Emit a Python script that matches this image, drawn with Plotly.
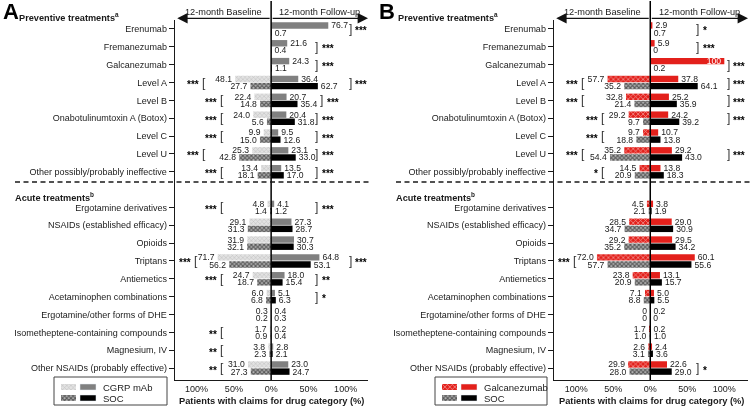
import plotly.graph_objects as go

W, H = 753, 409
FONT = "Liberation Sans, Arial, Helvetica, sans-serif"
INK = "#1a1a1a"
GRAY = "#808080"
RED = "#e3201b"

# ---------------- data ----------------
preventive = ["Erenumab", "Fremanezumab", "Galcanezumab", "Level A", "Level B",
              "Onabotulinumtoxin A (Botox)", "Level C", "Level U",
              "Other possibly/probably ineffective"]
acute = ["Ergotamine derivatives", "NSAIDs (established efficacy)", "Opioids", "Triptans",
         "Antiemetics", "Acetaminophen combinations", "Ergotamine/other forms of DHE",
         "Isometheptene-containing compounds", "Magnesium, IV", "Other NSAIDs (probably effective)"]
categories = preventive + acute

x_ticks = [-100, -50, 0, 50, 100]
x_tick_labels = ["100%", "50%", "0%", "50%", "100%"]

# Panel A: CGRP mAb vs SOC (baseline / follow-up)
a_cgrp_base = [None, None, None, 48.1, 22.4, 24.0, 9.9, 25.3, 13.4,
               4.8, 29.1, 31.9, 71.7, 24.7, 6.0, 0.3, 1.7, 3.8, 31.0]
a_soc_base = [None, None, None, 27.7, 14.8, 5.6, 15.0, 42.8, 18.1,
              1.4, 31.3, 32.1, 56.2, 18.7, 6.8, 0.2, 0.9, 2.3, 27.3]
a_cgrp_fu = [76.7, 21.6, 24.3, 36.4, 20.7, 20.4, 9.5, 23.1, 13.5,
             4.1, 27.3, 30.7, 64.8, 18.0, 5.1, 0.4, 0.2, 2.8, 23.0]
a_soc_fu = [0.7, 0.4, 1.1, 62.7, 35.4, 31.8, 12.6, 33.0, 17.0,
            1.2, 28.7, 30.3, 53.1, 15.4, 6.3, 0.3, 0.4, 2.1, 24.7]

# Panel B: Galcanezumab vs SOC
b_galc_base = [None, None, None, 57.7, 32.8, 29.2, 9.7, 35.2, 14.5,
               4.5, 28.5, 29.2, 72.0, 23.8, 7.1, 0, 1.7, 2.6, 29.9]
b_soc_base = [None, None, None, 35.2, 21.4, 9.7, 18.8, 54.4, 20.9,
              2.1, 34.7, 35.2, 57.7, 20.9, 8.8, 0, 1.0, 3.1, 28.0]
b_galc_fu = [2.9, 5.9, 100, 37.8, 25.2, 24.2, 10.7, 29.2, 13.8,
             3.8, 29.0, 29.5, 60.1, 13.1, 5.0, 0.2, 0.2, 2.4, 22.6]
b_soc_fu = [0.7, 0, 0.2, 64.1, 35.9, 39.2, 13.8, 43.0, 18.3,
            1.9, 30.9, 34.2, 55.6, 15.7, 5.5, 0, 1.0, 3.6, 29.0]

# significance: (category, stars, bracket position in % of axis)
a_sig_base = [("Level A", "***", -90), ("Level B", "***", -66), ("Onabotulinumtoxin A (Botox)", "***", -66),
              ("Level C", "***", -66), ("Level U", "***", -90),
              ("Other possibly/probably ineffective", "***", -66),
              ("Ergotamine derivatives", "***", -66), ("Triptans", "***", -101),
              ("Antiemetics", "***", -66), ("Isometheptene-containing compounds", "**", -66),
              ("Magnesium, IV", "**", -66), ("Other NSAIDs (probably effective)", "**", -66)]
a_sig_fu = [("Erenumab", "***", 106), ("Fremanezumab", "***", 61), ("Galcanezumab", "***", 61),
            ("Level A", "***", 106), ("Level B", "***", 68), ("Onabotulinumtoxin A (Botox)", "***", 61),
            ("Level C", "***", 61), ("Level U", "***", 61),
            ("Other possibly/probably ineffective", "***", 61),
            ("Ergotamine derivatives", "***", 61), ("Triptans", "***", 106),
            ("Antiemetics", "**", 61), ("Acetaminophen combinations", "*", 61)]
b_sig_base = [("Level A", "***", -91), ("Level B", "***", -91), ("Onabotulinumtoxin A (Botox)", "***", -64),
              ("Level C", "***", -64), ("Level U", "***", -91),
              ("Other possibly/probably ineffective", "*", -64), ("Triptans", "***", -101)]
b_sig_fu = [("Erenumab", "*", 64), ("Fremanezumab", "***", 64), ("Galcanezumab", "***", 105),
            ("Level A", "***", 105), ("Level B", "***", 105), ("Onabotulinumtoxin A (Botox)", "***", 105),
            ("Level U", "***", 105), ("Other NSAIDs (probably effective)", "*", 64)]

# ---------------- helpers ----------------
def px(x):
    return x / W


def py(y):
    return 1 - y / H


def row_pos(cat):
    i = categories.index(cat)
    return i if i < len(preventive) else i + 1


positions = [row_pos(c) for c in categories]


def fmt(v):
    if v is None:
        return ""
    if v == 0:
        return "0"
    if v == 100:
        return "100"
    return f"{v:.1f}"


def neg(v):
    # baseline bars point left; a zero value keeps a hair-thin leftward bar so its label sits on the left
    if v is None:
        return None
    return -v if v != 0 else -0.1


OFF = 0.2
BW = 0.36
NUM = dict(family=FONT, size=8.6, color=INK)
LBL = 9

fig = go.Figure()

panels = [
    dict(xa="x", ya="y", dom=(175, 368), rng=[-129, 130], tips=(-126, 130),
         top_base=a_cgrp_base, bot_base=a_soc_base, top_fu=a_cgrp_fu, bot_fu=a_soc_fu,
         top_base_style=dict(color="#dcdcdc", pattern=dict(shape="x", fgcolor="#a0a0a0", bgcolor="#e2e2e2",
                                                           size=3, solidity=0.35)),
         top_fu_color=GRAY, sig_base=a_sig_base, sig_fu=a_sig_fu,
         letter="A", left=0, legend_name="CGRP mAb", box=(54, 167), pre_x=19, acu_x=15, dash_x=15),
    dict(xa="x2", ya="y2", dom=(554, 748), rng=[-130, 132], tips=(-127, 132),
         top_base=b_galc_base, bot_base=b_soc_base, top_fu=b_galc_fu, bot_fu=b_soc_fu,
         top_base_style=dict(color=RED, pattern=dict(shape="x", fgcolor="white", bgcolor=RED,
                                                     size=3.5, solidity=0.4)),
         top_fu_color=RED, sig_base=b_sig_base, sig_fu=b_sig_fu,
         letter="B", left=376, legend_name="Galcanezumab", box=(435, 547), pre_x=398, acu_x=396, dash_x=396),
]

soc_base_style = dict(color="#777777", pattern=dict(shape="x", fgcolor="#000000", bgcolor="#b4b4b4",
                                                    size=3, solidity=0.6))

annotations = []
shapes = []
layout_axes = {}

for k, p in enumerate(panels):
    xa, ya = p["xa"], p["ya"]
    top_y = [q - OFF for q in positions]
    bot_y = [q + OFF for q in positions]

    def bar(xs, ys, texts, marker, tpos="outside"):
        return go.Bar(x=xs, y=ys, orientation="h", width=BW, text=texts, textposition=tpos,
                      textfont=NUM, insidetextfont=dict(family=FONT, size=8.6, color="white"),
                      outsidetextfont=NUM, constraintext="none", cliponaxis=False,
                      textangle=0, marker=marker, xaxis=xa, yaxis=ya, hoverinfo="skip",
                      showlegend=False)

    m_top_base = dict(color=p["top_base_style"]["color"], pattern=p["top_base_style"]["pattern"],
                      line=dict(width=0))
    m_bot_base = dict(color=soc_base_style["color"], pattern=soc_base_style["pattern"], line=dict(width=0))
    fig.add_trace(bar([neg(v) for v in p["top_base"]], top_y, [fmt(v) for v in p["top_base"]], m_top_base))
    fig.add_trace(bar([neg(v) for v in p["bot_base"]], bot_y, [fmt(v) for v in p["bot_base"]], m_bot_base))
    tpos_top = ["inside" if v == 100 else "outside" for v in p["top_fu"]]
    fig.add_trace(bar(p["top_fu"], top_y, [fmt(v) for v in p["top_fu"]],
                      dict(color=p["top_fu_color"], line=dict(width=0)), tpos_top))
    fig.add_trace(bar(p["bot_fu"], bot_y, [fmt(v) for v in p["bot_fu"]],
                      dict(color="black", line=dict(width=0))))

    xname = "xaxis" + xa[1:]
    yname = "yaxis" + ya[1:]
    layout_axes[xname] = dict(domain=[px(p["dom"][0]), px(p["dom"][1])], range=p["rng"], anchor=ya,
                              showline=True, linecolor=INK, linewidth=1.3, ticks="",
                              tickvals=x_ticks, ticktext=x_tick_labels,
                              tickfont=dict(family=FONT, size=9, color=INK),
                              showgrid=False, zeroline=False, fixedrange=True, automargin=False)
    layout_axes[yname] = dict(domain=[py(380), py(20)], range=[19.67, -0.504], anchor=xa,
                              showline=True, linecolor=INK, linewidth=1.3, ticks="outside",
                              ticklen=5, tickwidth=1, tickcolor=INK,
                              tickvals=positions, ticktext=categories,
                              tickfont=dict(family=FONT, size=LBL, color=INK),
                              showgrid=False, zeroline=False, fixedrange=True, automargin=False)

    # zero line
    shapes.append(dict(type="line", xref=xa, yref="paper", x0=0, x1=0, y0=py(380), y1=py(1),
                       line=dict(color="black", width=1.5)))
    # dashed separator
    shapes.append(dict(type="line", xref="paper", yref="paper",
                       x0=px(p["dash_x"]), x1=px(p["dom"][1] + 2),
                       y0=py(182), y1=py(182), line=dict(color=INK, width=1.5, dash="5px,3.5px")))
    # arrows
    for tip in p["tips"]:
        annotations.append(dict(xref=xa, yref="paper", x=tip, y=py(18.3), ax=0, ay=0,
                                axref=xa, ayref="pixel", text="", showarrow=True, arrowhead=2,
                                arrowsize=1.6, arrowwidth=1.3, arrowcolor="#111", standoff=0,
                                startstandoff=0))
    # header texts
    for xd, t in ((0.25, "12-month Baseline"), (0.75, "12-month Follow-up")):
        annotations.append(dict(xref=xa + " domain", yref="paper", x=xd, y=py(12.5), text=t,
                                showarrow=False, xanchor="center", yanchor="middle",
                                font=dict(family=FONT, size=9.2, color=INK)))
    # x-axis title
    annotations.append(dict(xref=xa + " domain", yref="paper", x=0.5, y=py(400.5),
                            text="<b>Patients with claims for drug category (%)</b>", showarrow=False,
                            xanchor="center", yanchor="middle",
                            font=dict(family=FONT, size=9.3, color=INK)))
    # panel letter and section headers
    annotations.append(dict(xref="paper", yref="paper", x=px(p["left"] + 0.5), y=py(11.5),
                            text=f"<b>{p['letter']}</b>",
                            showarrow=False, xanchor="left", yanchor="middle",
                            font=dict(family=FONT, size=22, color="black")))
    annotations.append(dict(xref="paper", yref="paper", x=px(p["pre_x"] - 2), y=py(17),
                            text="<b>Preventive treatments<sup>a</sup></b>", showarrow=False,
                            xanchor="left", yanchor="middle", font=dict(family=FONT, size=9.2, color=INK)))
    annotations.append(dict(xref="paper", yref="paper", x=px(p["acu_x"] - 2), y=py(197),
                            text="<b>Acute treatments<sup>b</sup></b>", showarrow=False,
                            xanchor="left", yanchor="middle", font=dict(family=FONT, size=9.2, color=INK)))
    # significance brackets
    STAR = dict(family=FONT, size=10, color="#000000", weight="bold")
    for cat, stars, xb in p["sig_base"]:
        yy = row_pos(cat)
        annotations.append(dict(xref=xa, yref=ya, x=xb, y=yy, text="[", showarrow=False,
                                xanchor="center", yanchor="middle",
                                font=dict(family=FONT, size=12, color="#333")))
        annotations.append(dict(xref=xa, yref=ya, x=xb, y=yy, text=stars, showarrow=False,
                                xanchor="right", yanchor="middle", xshift=-3, yshift=-2, font=STAR))
    for cat, stars, xb in p["sig_fu"]:
        yy = row_pos(cat)
        annotations.append(dict(xref=xa, yref=ya, x=xb, y=yy, text="]", showarrow=False,
                                xanchor="center", yanchor="middle",
                                font=dict(family=FONT, size=12, color="#333")))
        annotations.append(dict(xref=xa, yref=ya, x=xb, y=yy, text=stars, showarrow=False,
                                xanchor="left", yanchor="middle", xshift=3, yshift=-2, font=STAR))

    # legend (inset axis with swatch bars)
    b0, b1 = p["box"]
    lx = "x" + str(k + 3)
    ly = "y" + str(k + 3)
    layout_axes["xaxis" + str(k + 3)] = dict(domain=[px(b0), px(b1)], range=[0, b1 - b0], anchor=ly,
                                             visible=False, fixedrange=True)
    layout_axes["yaxis" + str(k + 3)] = dict(domain=[py(405), py(377)], range=[28, 0], anchor=lx,
                                             visible=False, fixedrange=True)
    sw_rows = [10, 21]
    for row, mb, mf in ((sw_rows[0], m_top_base, dict(color=p["top_fu_color"])),
                        (sw_rows[1], m_bot_base, dict(color="black"))):
        fig.add_trace(go.Bar(x=[15], base=[7], y=[row], orientation="h", width=6, marker=mb,
                             xaxis=lx, yaxis=ly, showlegend=False, hoverinfo="skip"))
        fig.add_trace(go.Bar(x=[16], base=[26], y=[row], orientation="h", width=6, marker=mf,
                             xaxis=lx, yaxis=ly, showlegend=False, hoverinfo="skip"))
    for row, name in ((387, p["legend_name"]), (398, "SOC")):
        annotations.append(dict(xref="paper", yref="paper", x=px(b0 + 47), y=py(row), text=name,
                                showarrow=False, xanchor="left", yanchor="middle",
                                font=dict(family=FONT, size=9.5, color=INK)))
    shapes.append(dict(type="rect", xref="paper", yref="paper", x0=px(b0), x1=px(b1),
                       y0=py(405), y1=py(377), line=dict(color="#444", width=1)))

fig.update_layout(width=W, height=H, margin=dict(l=0, r=0, t=0, b=0),
                  paper_bgcolor="white", plot_bgcolor="white", barmode="overlay",
                  showlegend=False, annotations=annotations, shapes=shapes,
                  font=dict(family=FONT, color=INK), **layout_axes)

POST = ("document.body.style.margin='0px';document.body.style.overflow='hidden';"
        "var st=document.createElement('style');"
        "st.textContent='.main-svg{will-change:transform;}';"
        "document.head.appendChild(st);")
fig.write_html("out.html", config={"displayModeBar": False, "staticPlot": True}, post_script=POST)
